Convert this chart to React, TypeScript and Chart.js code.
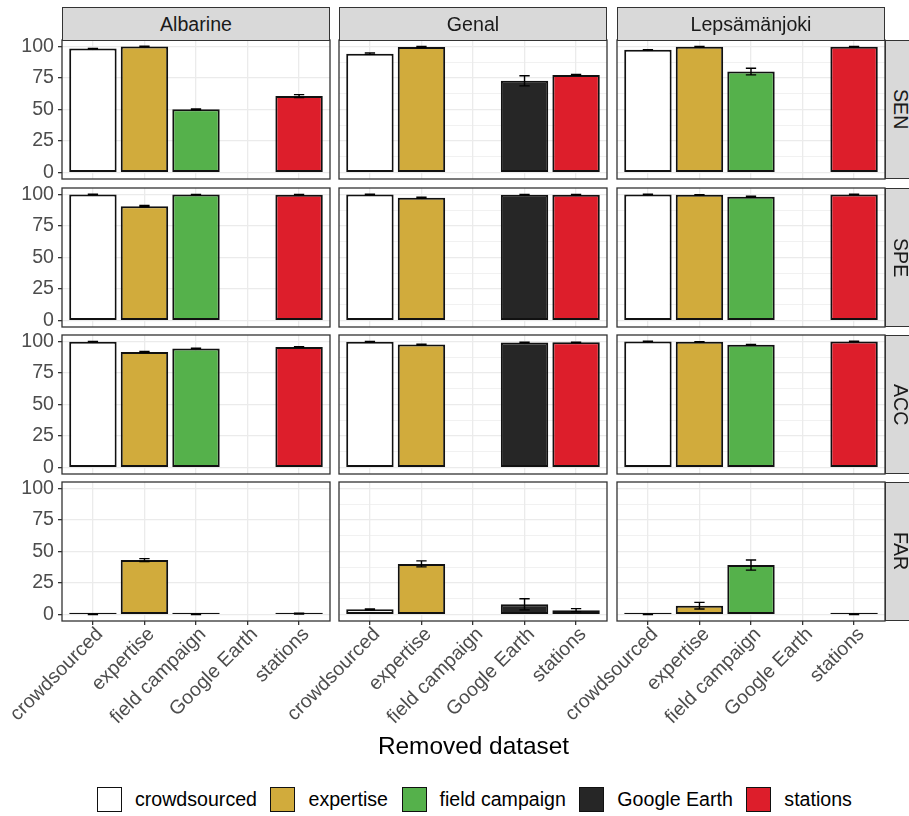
import React, { useEffect, useRef } from "react";
import { Chart, registerables } from "chart.js";

Chart.register(...registerables);

// ---------- data ----------
const CATEGORIES = ["crowdsourced", "expertise", "field campaign", "Google Earth", "stations"];
const COLORS = ["#FFFFFF", "#D1AB3C", "#55B14B", "#262626", "#DD1E2B"];
const SITES = ["Albarine", "Genal", "Lepsämänjoki"];
const METRICS = ["SEN", "SPE", "ACC", "FAR"];
const Y_TICKS = [0, 25, 50, 75, 100];
const Y_MINOR = [12.5, 37.5, 62.5, 87.5];

// values (%) per removed dataset, order = CATEGORIES; null = not available
const SEN_ALBARINE = [98.2, 99.8, 50.1, null, 60.6];
const SEN_GENAL = [94.2, 99.5, null, 72.7, 77.4];
const SEN_LEPSA = [97.2, 99.6, 80.0, null, 99.6];
const SPE_ALBARINE = [99.9, 90.6, 99.8, null, 99.7];
const SPE_GENAL = [99.8, 97.3, null, 99.6, 99.6];
const SPE_LEPSA = [99.9, 99.6, 98.1, null, 99.9];
const ACC_ALBARINE = [99.7, 91.6, 94.4, null, 95.6];
const ACC_GENAL = [99.7, 97.4, null, 99.1, 99.2];
const ACC_LEPSA = [99.9, 99.6, 97.3, null, 99.9];
const FAR_ALBARINE = [0.2, 43.2, 0.3, null, 0.8];
const FAR_GENAL = [4.2, 40.2, null, 8.2, 3.6];
const FAR_LEPSA = [0.1, 7.1, 39.3, null, 0.2];

// error bar half-widths
const SEN_ALBARINE_ERR = [0.2, 0.2, 0.4, null, 1.2];
const SEN_GENAL_ERR = [0.6, 0.4, null, 4.0, 0.3];
const SEN_LEPSA_ERR = [0.1, 0.2, 2.6, null, 0.2];
const SPE_ALBARINE_ERR = [0.1, 0.5, 0.1, null, 0.1];
const SPE_GENAL_ERR = [0.2, 0.4, null, 0.2, 0.2];
const SPE_LEPSA_ERR = [0.1, 0.1, 0.4, null, 0.1];
const ACC_ALBARINE_ERR = [0.1, 0.4, 0.2, null, 0.2];
const ACC_GENAL_ERR = [0.2, 0.3, null, 0.2, 0.2];
const ACC_LEPSA_ERR = [0.1, 0.1, 0.3, null, 0.1];
const FAR_ALBARINE_ERR = [0.1, 1.2, 0.1, null, 0.3];
const FAR_GENAL_ERR = [0.4, 2.4, null, 4.4, 1.2];
const FAR_LEPSA_ERR = [0.05, 2.6, 4.0, null, 0.1];

const VALUES = [
  [SEN_ALBARINE, SEN_GENAL, SEN_LEPSA],
  [SPE_ALBARINE, SPE_GENAL, SPE_LEPSA],
  [ACC_ALBARINE, ACC_GENAL, ACC_LEPSA],
  [FAR_ALBARINE, FAR_GENAL, FAR_LEPSA],
];
const ERRORS = [
  [SEN_ALBARINE_ERR, SEN_GENAL_ERR, SEN_LEPSA_ERR],
  [SPE_ALBARINE_ERR, SPE_GENAL_ERR, SPE_LEPSA_ERR],
  [ACC_ALBARINE_ERR, ACC_GENAL_ERR, ACC_LEPSA_ERR],
  [FAR_ALBARINE_ERR, FAR_GENAL_ERR, FAR_LEPSA_ERR],
];

// ---------- layout ----------
const FONT = "'Liberation Sans', Arial, sans-serif";
const SMALL = 19.6;
const COL_LEFT = [62, 339, 617];
const ROW_TOP = [40, 188, 335, 482];
const PANEL_W = 268;
const PANEL_H = 139;
const LPAD = 62;
const TPAD = 12;
const RPAD = 12;
const XH = 130;

const panelPlugin = {
  id: "panelDecor",
  afterDatasetsDraw(chart: any) {
    const { ctx, chartArea: a } = chart;
    const xs = chart.scales.x;
    const ys = chart.scales.y;
    ctx.save();
    ctx.strokeStyle = "#000000";
    ctx.lineWidth = 1.4;
    chart.data.datasets[0].data.forEach((p: any) => {
      if (!p.err) return;
      const px = xs.getPixelForValue(p.x);
      const hw = xs.getPixelForValue(p.x + 0.1) - px;
      const lo = ys.getPixelForValue(p.y - p.err);
      const hi = ys.getPixelForValue(p.y + p.err);
      ctx.beginPath();
      ctx.moveTo(px, lo);
      ctx.lineTo(px, hi);
      ctx.moveTo(px - hw, lo);
      ctx.lineTo(px + hw, lo);
      ctx.moveTo(px - hw, hi);
      ctx.lineTo(px + hw, hi);
      ctx.stroke();
    });
    ctx.strokeStyle = "#333333";
    ctx.lineWidth = 1.3;
    ctx.strokeRect(a.left, a.top, a.right - a.left, a.bottom - a.top);
    ctx.restore();
  },
};

function Panel({ r, c }: { r: number; c: number }) {
  const ref = useRef<HTMLCanvasElement | null>(null);
  const bottom = r === METRICS.length - 1;
  const left = c === 0;
  const w = LPAD + PANEL_W + RPAD;
  const h = TPAD + PANEL_H + (bottom ? XH : TPAD);

  useEffect(() => {
    const vals = VALUES[r][c];
    const errs = ERRORS[r][c];
    const data = vals
      .map((v, i) => ({ x: i + 1, y: v, err: errs[i] }))
      .filter((p) => p.y !== null);
    const allTicks = [...Y_TICKS, ...Y_MINOR].sort((a, b) => a - b);
    const chart = new Chart(ref.current as HTMLCanvasElement, {
      type: "bar",
      data: {
        datasets: [
          {
            data: data as any,
            backgroundColor: (ctx: any) => COLORS[ctx.raw.x - 1],
            borderColor: "#111111",
            borderWidth: 2,
            borderSkipped: false,
            barPercentage: 0.92,
            categoryPercentage: 1,
            minBarLength: 2,
          } as any,
        ],
      },
      options: {
        responsive: false,
        animation: false,
        events: [],
        layout: { padding: { top: TPAD, right: RPAD, bottom: bottom ? 0 : TPAD, left: 0 } },
        plugins: { legend: { display: false }, tooltip: { enabled: false } },
        scales: {
          x: {
            type: "linear",
            min: 0.4,
            max: 5.6,
            offset: false,
            afterBuildTicks: (s: any) => {
              s.ticks = CATEGORIES.map((_, i) => ({ value: i + 1 }));
            },
            afterFit: (s: any) => {
              s.height = bottom ? XH : 0;
              s.paddingLeft = 0;
              s.paddingRight = 0;
            },
            ticks: {
              display: bottom,
              autoSkip: false,
              minRotation: 45,
              maxRotation: 45,
              padding: -2,
              labelOffset: 7,
              color: "#4D4D4D",
              font: { family: FONT, size: SMALL },
              callback: (v: any) => CATEGORIES[Math.round(v) - 1] ?? "",
            },
            grid: {
              offset: false,
              color: "#EBEBEB",
              lineWidth: 1.3,
              tickLength: 4,
              tickColor: bottom ? "#333333" : "rgba(0,0,0,0)",
            },
            border: { display: false },
          },
          y: {
            min: -5,
            max: 105,
            afterBuildTicks: (s: any) => {
              s.ticks = allTicks.map((v) => ({ value: v }));
            },
            afterFit: (s: any) => {
              s.width = LPAD;
              s.paddingTop = 0;
              s.paddingBottom = 0;
            },
            ticks: {
              display: left,
              padding: 4,
              color: "#4D4D4D",
              font: { family: FONT, size: SMALL },
              callback: (v: any) => (Y_TICKS.includes(v) ? String(v) : ""),
            },
            grid: {
              color: "#EBEBEB",
              lineWidth: (ctx: any) => (Y_TICKS.includes(ctx.tick?.value) ? 1.3 : 0.7),
              tickLength: 4,
              tickColor: (ctx: any) =>
                left && Y_TICKS.includes(ctx.tick?.value) ? "#333333" : "rgba(0,0,0,0)",
            },
            border: { display: false },
          },
        },
      } as any,
      plugins: [panelPlugin],
    });
    return () => chart.destroy();
  }, [r, c, bottom, left]);

  return (
    <canvas
      ref={ref}
      width={w}
      height={h}
      style={{
        position: "absolute",
        left: COL_LEFT[c] - LPAD,
        top: ROW_TOP[r] - TPAD,
        width: w,
        height: h,
      }}
    />
  );
}

export default function App() {
  const legendKeys = CATEGORIES.map((cat, i) => (
    <div key={cat} style={{ display: "flex", alignItems: "center", marginRight: 13.5 }}>
      <div
        style={{
          width: 25,
          height: 25,
          boxSizing: "border-box",
          border: "1.6px solid #111111",
          background: COLORS[i],
          marginRight: 13,
        }}
      />
      <span style={{ fontSize: SMALL, color: "#000" }}>{cat}</span>
    </div>
  ));

  return (
    <div
      style={{
        position: "absolute",
        left: 0,
        top: 0,
        width: 909,
        height: 816,
        overflow: "hidden",
        background: "#FFFFFF",
        fontFamily: FONT,
      }}
    >
      {METRICS.map((_, r) => SITES.map((__, c) => <Panel key={`${r}-${c}`} r={r} c={c} />))}
      {SITES.map((s, c) => (
        <div
          key={s}
          style={{
            position: "absolute",
            left: COL_LEFT[c],
            top: 7,
            width: PANEL_W,
            height: 34,
            boxSizing: "border-box",
            background: "#D9D9D9",
            border: "1.2px solid #333333",
            display: "flex",
            alignItems: "center",
            justifyContent: "center",
            fontSize: SMALL,
            color: "#1A1A1A",
          }}
        >
          {s}
        </div>
      ))}
      {METRICS.map((m, r) => (
        <div
          key={m}
          style={{
            position: "absolute",
            left: COL_LEFT[2] + PANEL_W,
            top: ROW_TOP[r],
            width: 30,
            height: PANEL_H,
            boxSizing: "border-box",
            background: "#D9D9D9",
            border: "1.2px solid #333333",
            display: "flex",
            alignItems: "center",
            justifyContent: "center",
            fontSize: SMALL,
            color: "#1A1A1A",
          }}
        >
          <span style={{ writingMode: "vertical-rl" }}>{m}</span>
        </div>
      ))}
      <div
        style={{
          position: "absolute",
          left: COL_LEFT[0],
          width: COL_LEFT[2] + PANEL_W - COL_LEFT[0],
          top: 732,
          textAlign: "center",
          fontSize: 24.4,
          color: "#000",
        }}
      >
        Removed dataset
      </div>
      <div
        style={{
          position: "absolute",
          left: 97,
          top: 787,
          height: 25,
          display: "flex",
          alignItems: "center",
        }}
      >
        {legendKeys}
      </div>
    </div>
  );
}
